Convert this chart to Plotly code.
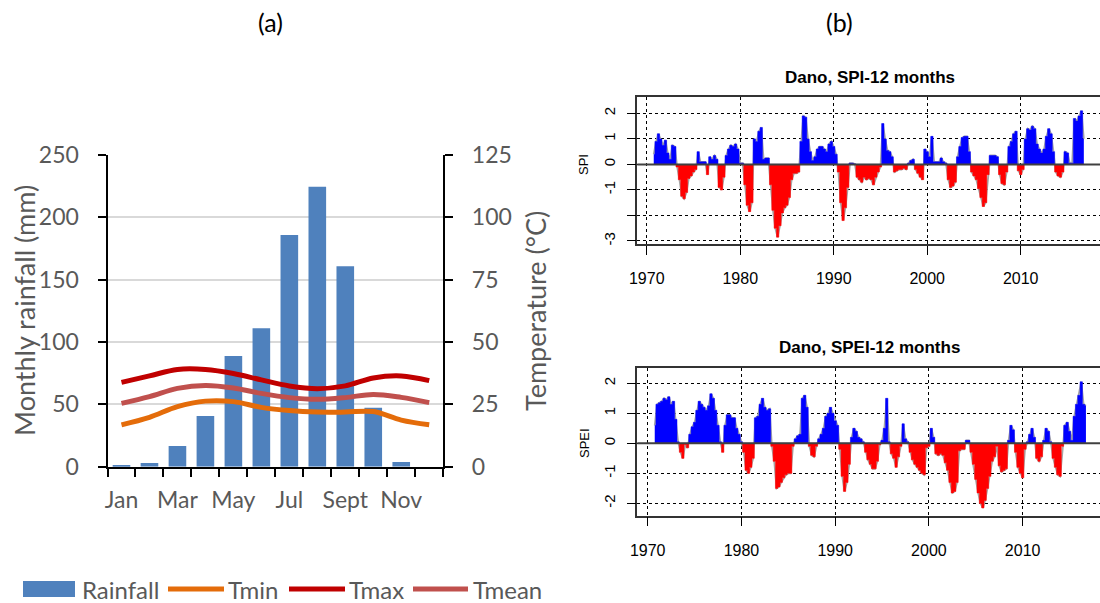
import plotly.graph_objects as go

# ---------------- data: panel (a) ----------------
months = ["Jan", "Feb", "Mar", "Apr", "May", "Jun", "Jul", "Aug", "Sep", "Oct", "Nov", "Dec"]
rainfall = [1.3, 2.9, 16.6, 40.6, 88.8, 111.0, 185.8, 224.6, 160.7, 47.3, 3.7, 0.0]
tmin = [16.8, 19.8, 24.1, 26.3, 26.1, 23.8, 22.5, 21.9, 21.9, 22.1, 18.7, 16.8]
tmax = [33.8, 36.4, 39.0, 39.0, 37.4, 34.8, 32.4, 31.3, 32.4, 35.6, 36.4, 34.5]
tmean = [25.4, 28.1, 31.4, 32.6, 31.6, 29.4, 27.7, 27.0, 27.7, 29.0, 27.8, 25.7]
month_tick_labels = ["Jan", "Mar", "May", "Jul", "Sept", "Nov"]
month_tick_index = [0, 2, 4, 6, 8, 10]
rain_ticks = [0, 50, 100, 150, 200, 250]
temp_ticks = [0, 25, 50, 75, 100, 125]

# ---------------- data: panel (b) ----------------
series_start = 1970.75
series_step = 0.25
spi12 = [
    0.4,
    0.9, 1.2, 1.0, 0.75,        # 1971
    0.95, 0.45, 0.2, 0.75,      # 1972
    0.7, -0.1, -0.6, -1.25,     # 1973
    -1.35, -1.1, -0.55, -0.45,  # 1974
    -0.3, -0.2, 0.5, 0.1,       # 1975
    0.1, 0.1, -0.4, 0.3,        # 1976
    0.2, 0.35, 0.2, -0.9,       # 1977
    -1.0, -0.5, 0.35, 0.6,      # 1978
    0.75, 0.7, 0.8, 0.6,        # 1979
    0.05, 0.05, -0.8, -1.6,     # 1980
    -1.85, -1.5, 1.0, 0.9,      # 1981
    1.3, 1.45, 0.2, 0.25,       # 1982
    0.25, -0.8, -1.8, -2.5,     # 1983
    -2.85, -2.4, -1.9, -1.7,    # 1984
    -1.6, -1.3, -0.6, -0.35,    # 1985
    -0.35, -0.3, 0.9, 1.9,      # 1986
    1.85, 1.0, 0.5, 0.15,       # 1987
    0.3, 0.6, 0.7, 0.7,         # 1988
    0.6, 0.5, 0.8, 0.9,         # 1989
    0.7, 0.4, -0.3, -1.5,       # 1990
    -2.2, -1.7, -0.9, 0.05,     # 1991
    0.05, 0.02, -0.5, -0.6,     # 1992
    -0.7, -0.5, -0.6, -0.55,    # 1993
    -0.6, -0.8, -0.5, -0.3,     # 1994
    -0.1, 1.6, 1.0, 0.55,       # 1995
    0.5, 0.3, -0.3, -0.25,      # 1996
    -0.2, -0.2, -0.15, -0.2,    # 1997
    0.05, 0.15, 0.2, -0.2,      # 1998
    -0.35, -0.5, -0.6, 0.6,     # 1999
    0.5, 0.3, 1.1, 0.1,         # 2000
    0.1, 0.1, 0.25, 0.1,        # 2001
    0.05, -0.6, -0.9, -0.85,    # 2002
    -0.7, 0.3, 0.7, 1.05,       # 2003
    1.1, 1.1, 0.5, -0.3,        # 2004
    -0.45, -0.6, -0.95, -1.3,   # 2005
    -1.65, -1.5, -0.4, 0.35,    # 2006
    0.35, 0.35, 0.3, -0.4,      # 2007
    -0.75, -0.8, -0.3, 0.7,     # 2008
    0.9, 1.2, 1.3, -0.25,       # 2009
    -0.4, -0.2, 1.0, 1.4,       # 2010
    1.35, 1.5, 1.4, 0.8,        # 2011
    0.6, 0.45, 0.6, 1.1,        # 2012
    1.4, 1.2, 0.5, -0.3,        # 2013
    -0.45, -0.5, -0.3, 0.5,     # 2014
    0.45, 0.05, 0.05, 1.8,      # 2015
    1.7, 1.9, 2.1, 1.0,         # 2016
]
spei12 = [
    0.6,
    1.3, 1.35, 1.4, 1.5,        # 1971
    1.45, 1.55, 1.3, 1.4,       # 1972
    0.8, 0.05, -0.3, -0.5,      # 1973
    -0.05, -0.15, 0.3, 0.55,    # 1974
    0.7, 1.1, 1.4, 1.3,         # 1975
    1.2, 1.1, 1.25, 1.65,       # 1976
    1.5, 1.1, 0.6, 0.05,        # 1977
    -0.3, 0.6, 0.95, 0.95,      # 1978
    0.85, 0.85, 0.5, 0.3,       # 1979
    0.05, -0.3, -0.9, -1.0,     # 1980
    -0.8, -0.5, 0.85, 0.9,      # 1981
    1.3, 1.5, 1.2, 1.1,         # 1982
    1.15, -0.1, -0.6, -1.5,     # 1983
    -1.45, -1.3, -1.15, -1.05,  # 1984
    -1.0, -1.0, -0.1, 0.15,     # 1985
    0.25, 0.3, 1.5, 1.6,        # 1986
    1.2, -0.1, -0.4, -0.45,     # 1987
    -0.1, 0.15, 0.3, 0.5,       # 1988
    0.9, 1.0, 1.2, 1.0,         # 1989
    0.75, 0.6, -0.2, -1.1,      # 1990
    -1.6, -1.3, -0.7, 0.2,      # 1991
    0.5, 0.4, 0.2, 0.15,        # 1992
    0.05, -0.3, -0.55, -0.7,    # 1993
    -0.85, -0.85, -0.6, -0.05,  # 1994
    0.1, 0.5, 1.5, 0.05,        # 1995
    -0.35, -0.5, -0.8, -0.45,   # 1996
    -0.1, 0.65, 0.15, 0.05,     # 1997
    -0.3, -0.55, -0.7, -0.8,    # 1998
    -0.9, -1.0, -1.05, -0.15,   # 1999
    -0.1, 0.5, 0.2, -0.35,      # 2000
    -0.4, -0.35, -0.4, -0.65,   # 2001
    -0.9, -1.3, -1.65, -1.6,    # 2002
    -1.3, -0.25, -0.2, -0.2,    # 2003
    0.1, 0.1, -0.3, -0.7,       # 2004
    -1.2, -1.65, -2.0, -2.15,   # 2005
    -1.9, -1.5, -1.1, -0.6,     # 2006
    -0.45, -0.1, -0.75, -0.95,  # 2007
    -0.9, -0.85, 0.1, 0.6,      # 2008
    0.45, -0.3, -0.8, -1.0,     # 2009
    -1.15, -0.2, 0.05, 0.3,     # 2010
    0.5, 0.2, -0.5, -0.6,       # 2011
    -0.45, 0.1, 0.5, 0.4,       # 2012
    0.05, -0.5, -0.8, -1.05,    # 2013
    -1.1, -0.1, 0.6, 0.7,       # 2014
    0.4, 0.1, 0.9, 1.3,         # 2015
    1.6, 2.05, 1.3, 1.25,       # 2016
]
decade_ticks = [1970, 1980, 1990, 2000, 2010]
spi_tickvals = [2, 1, 0, -1, -2, -3]
spi_ticktext = ["2", "1", "0", "-1", "", "-3"]
spei_tickvals = [2, 1, 0, -1, -2]
spei_ticktext = ["2", "1", "0", "-1", "-2"]

# ---------------- helpers ----------------
W, H = 1100, 603


def fx(p):
    return p / W


def fy(p):
    return 1 - p / H


GREY_TXT = "#595959"
XL_FONT = "Lato, Open Sans, sans-serif"
R_FONT = "Liberation Sans, Arial, sans-serif"

fig = go.Figure()

# ---------------- panel (a) traces ----------------
x_idx = list(range(len(months)))
fig.add_trace(go.Bar(x=x_idx, y=rainfall, name="Rainfall", marker=dict(color="#4F81BD", line=dict(width=0)),
                     width=0.63, xaxis="x", yaxis="y", showlegend=False, customdata=months))
temp_series = [("Tmin", tmin, "#E46C0A"), ("Tmax", tmax, "#C00000"), ("Tmean", tmean, "#C0504D")]
for nm, vals, col in temp_series:
    fig.add_trace(go.Scatter(x=x_idx, y=vals, name=nm, mode="lines",
                             line=dict(color=col, width=5, shape="spline", smoothing=1.0),
                             xaxis="x", yaxis="y2", showlegend=False))


# ---------------- panel (b) traces ----------------
def add_index(values, xa, ya):
    xs = [series_start + i * series_step for i in range(len(values))]
    pos = [max(v, 0) for v in values]
    neg = [min(v, 0) for v in values]
    fig.add_trace(go.Scatter(x=xs, y=values, mode="lines", line=dict(color="#A6A6A6", width=1.8),
                             xaxis=xa, yaxis=ya, showlegend=False))
    fig.add_trace(go.Scatter(x=xs, y=pos, mode="lines", line=dict(color="#0000FF", width=0.5, shape="hvh"),
                             fill="tozeroy", fillcolor="#0000FF", xaxis=xa, yaxis=ya, showlegend=False))
    fig.add_trace(go.Scatter(x=xs, y=neg, mode="lines", line=dict(color="#FF0000", width=0.5, shape="hvh"),
                             fill="tozeroy", fillcolor="#FF0000", xaxis=xa, yaxis=ya, showlegend=False))


add_index(spi12, "x2", "y3")
add_index(spei12, "x3", "y4")

# ---------------- layout ----------------
xl_tick_font = dict(family=XL_FONT, size=23, color=GREY_TXT)
r_tick_font = dict(family=R_FONT, size=16, color="black")

common_b_x = dict(tickmode="array", tickvals=decade_ticks, ticks="outside", ticklen=9, tickcolor="black",
                  tickwidth=1, showline=True, mirror=True, linecolor="#333333", linewidth=1.5,
                  showgrid=True, gridcolor="black", griddash="dot", gridwidth=1, zeroline=False,
                  tickfont=r_tick_font, ticklabelstandoff=10, automargin=False)
common_b_y = dict(tickmode="array", tickangle=-90, ticks="outside", ticklen=9, tickcolor="black",
                  tickwidth=1, showline=True, mirror=False, linecolor="#333333", linewidth=1.5,
                  showgrid=True, gridcolor="black", griddash="dot", gridwidth=1, zeroline=False,
                  tickfont=dict(family=R_FONT, size=15, color="black"), ticklabelstandoff=6,
                  automargin=False)

fig.update_layout(
    width=W, height=H,
    margin=dict(l=0, r=0, t=0, b=0),
    paper_bgcolor="white", plot_bgcolor="white",
    showlegend=False,
    bargap=0.37,
    xaxis=dict(domain=[fx(107.5), fx(443.2)], range=[-0.5, 11.5], anchor="y",
               tickmode="array", tickvals=month_tick_index, ticktext=month_tick_labels, ticks="",
               showline=True, linecolor="black", linewidth=2, showgrid=False, zeroline=False,
               tickfont=xl_tick_font, ticklabelstandoff=12, automargin=False,
               minor=dict(ticks="outside", tick0=-0.5, dtick=1, ticklen=8, tickcolor="black",
                          tickwidth=2, showgrid=False)),
    yaxis=dict(domain=[fy(466.7), fy(155.0)], range=[0, 250], anchor="x",
               tickmode="array", tickvals=rain_ticks, ticks="outside", ticklen=8, tickwidth=2,
               tickcolor="black", showline=True, linecolor="black", linewidth=2,
               showgrid=True, gridcolor="#D9D9D9", gridwidth=1.5, zeroline=False,
               tickfont=xl_tick_font, ticklabelstandoff=14, automargin=False),
    yaxis2=dict(overlaying="y", side="right", anchor="x", range=[0, 125],
                tickmode="array", tickvals=temp_ticks, ticks="outside", ticklen=8, tickwidth=2,
                tickcolor="black", showline=True, linecolor="black", linewidth=2,
                showgrid=False, zeroline=False, tickfont=xl_tick_font, ticklabelstandoff=14,
                automargin=False),
    xaxis2=dict(domain=[fx(637.3), 1.0], range=[1968.99, 2018.48], anchor="y3", **common_b_x),
    yaxis3=dict(domain=[fy(244.3), fy(97.3)], range=[-3.13, 2.63], anchor="x2",
                tickvals=spi_tickvals, ticktext=spi_ticktext, **common_b_y),
    xaxis3=dict(domain=[fx(637.3), 1.0], range=[1968.89, 2018.25], anchor="y4", **common_b_x),
    yaxis4=dict(domain=[fy(515.7), fy(367.7)], range=[-2.41, 2.52], anchor="x3",
                tickvals=spei_tickvals, ticktext=spei_ticktext, **common_b_y),
)

shapes = []
# zero reference lines on panel (b)
for xr, yr in [("x2 domain", "y3"), ("x3 domain", "y4")]:
    shapes.append(dict(type="line", xref=xr, yref=yr, x0=0, x1=1, y0=0, y1=0,
                       line=dict(color="#404040", width=2), layer="above"))

# manual legend for panel (a)
legend_y = 589.0
shapes.append(dict(type="rect", xref="paper", yref="paper", x0=fx(23), x1=fx(75), y0=fy(597), y1=fy(581),
                   fillcolor="#4F81BD", line=dict(width=0)))
legend_lines = [(168, 224, "#E46C0A"), (289, 345, "#C00000"), (413, 468, "#C0504D")]
for x0, x1, col in legend_lines:
    shapes.append(dict(type="line", xref="paper", yref="paper", x0=fx(x0), x1=fx(x1), y0=fy(legend_y),
                       y1=fy(legend_y), line=dict(color=col, width=5)))
fig.update_layout(shapes=shapes)

annotations = []
legend_texts = [("Rainfall", 80), ("Tmin", 226), ("Tmax", 347), ("Tmean", 471)]
for txt, x0 in legend_texts:
    annotations.append(dict(text=txt, x=fx(x0), y=fy(legend_y), xref="paper", yref="paper",
                            xanchor="left", yanchor="middle", showarrow=False,
                            font=dict(family=XL_FONT, size=24, color=GREY_TXT)))
# axis titles panel (a)
annotations.append(dict(text="Monthly rainfall (mm)", x=fx(24), y=fy(311), xref="paper", yref="paper",
                        textangle=-90, showarrow=False, xanchor="center", yanchor="middle",
                        font=dict(family=XL_FONT, size=27, color=GREY_TXT)))
annotations.append(dict(text="Temperature (°C)", x=fx(535), y=fy(311), xref="paper", yref="paper",
                        textangle=-90, showarrow=False, xanchor="center", yanchor="middle",
                        font=dict(family=XL_FONT, size=27, color=GREY_TXT)))
# panel labels
annotations.append(dict(text="(a)", x=fx(270), y=fy(22.5), xref="paper", yref="paper", showarrow=False,
                        xanchor="center", yanchor="middle", font=dict(family=XL_FONT, size=25, color="black")))
annotations.append(dict(text="(b)", x=fx(839), y=fy(22.5), xref="paper", yref="paper", showarrow=False,
                        xanchor="center", yanchor="middle", font=dict(family=XL_FONT, size=25, color="black")))
# panel (b) titles and y labels
annotations.append(dict(text="<b>Dano, SPI-12 months</b>", x=fx(870), y=fy(77.5), xref="paper", yref="paper",
                        showarrow=False, xanchor="center", yanchor="middle",
                        font=dict(family=R_FONT, size=17, color="black")))
annotations.append(dict(text="<b>Dano, SPEI-12 months</b>", x=fx(869), y=fy(347.5), xref="paper", yref="paper",
                        showarrow=False, xanchor="center", yanchor="middle",
                        font=dict(family=R_FONT, size=17, color="black")))
annotations.append(dict(text="SPI", x=fx(584), y=fy(165), xref="paper", yref="paper", textangle=-90,
                        showarrow=False, xanchor="center", yanchor="middle",
                        font=dict(family=R_FONT, size=13, color="black")))
annotations.append(dict(text="SPEI", x=fx(584), y=fy(443), xref="paper", yref="paper", textangle=-90,
                        showarrow=False, xanchor="center", yanchor="middle",
                        font=dict(family=R_FONT, size=13, color="black")))
fig.update_layout(annotations=annotations)

fig.write_html("out.html", config={"displayModeBar": False},
               post_script="document.body.style.margin='0';document.body.style.padding='0';")
